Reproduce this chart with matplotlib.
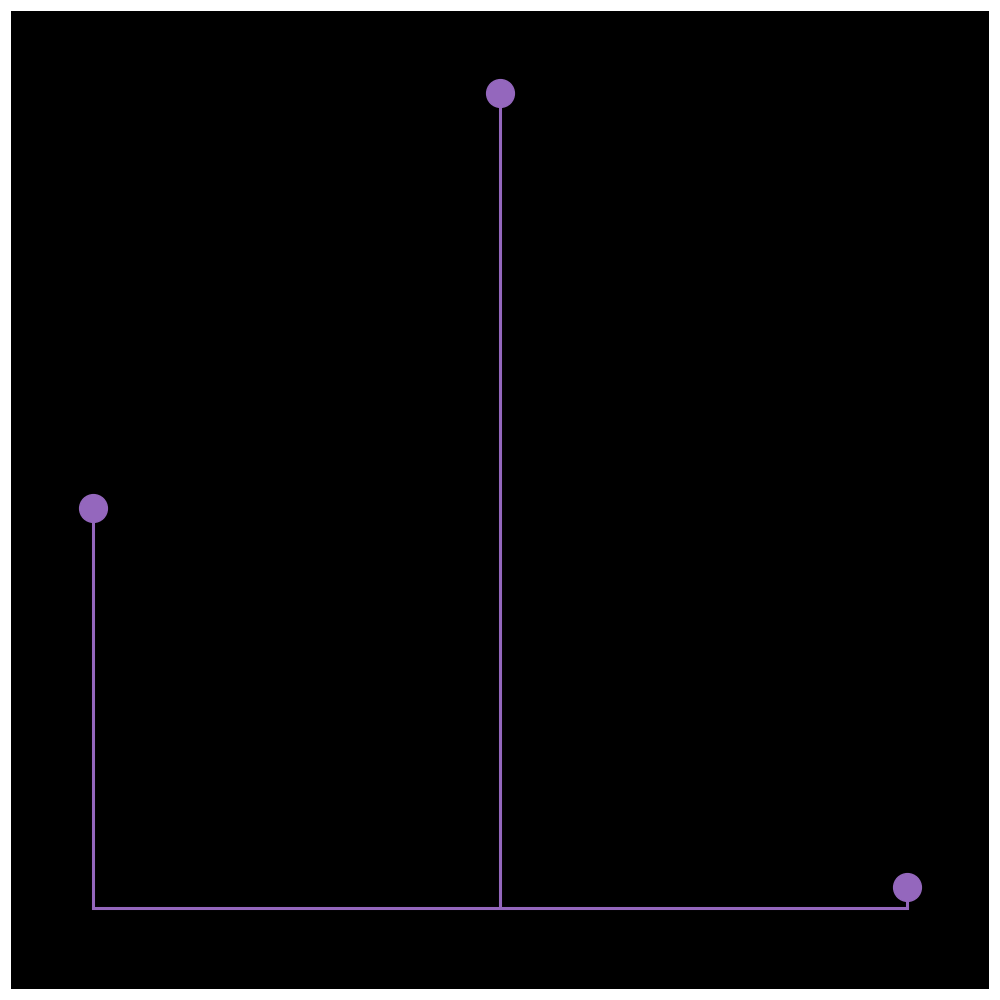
import matplotlib
matplotlib.use("Agg")
import matplotlib.pyplot as plt

positions = [0, 1, 2]
values = [4.9, 10.0, 0.25]

color = "#9467bd"

fig = plt.figure(figsize=(10, 10), dpi=100)
ax = fig.add_axes([0.011, 0.011, 0.978, 0.978])
ax.set_facecolor("black")

markerline, stemlines, baseline = ax.stem(positions, values, basefmt=" ")
plt.setp(markerline, color=color, markersize=20)
plt.setp(stemlines, color=color, linewidth=2.2)
ax.plot([positions[0], positions[-1]], [0, 0], color=color, linewidth=2.2, zorder=1)

ax.margins(0.1)
ax.set_xticks([])
ax.set_yticks([])
for s in ax.spines.values():
    s.set_visible(False)

fig.savefig("out.png", facecolor="white")
